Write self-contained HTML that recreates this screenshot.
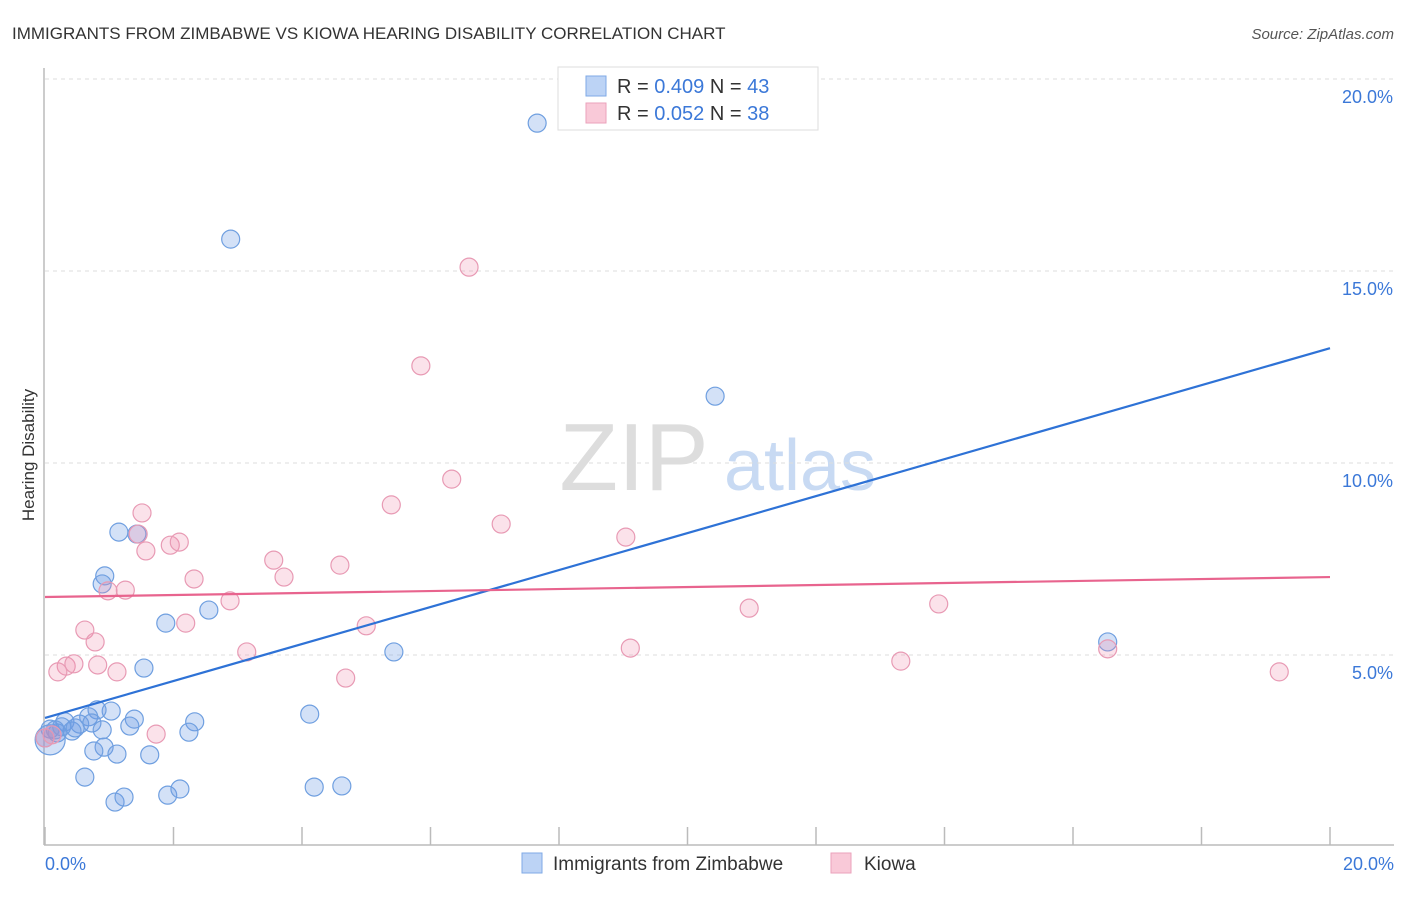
<!DOCTYPE html>
<html><head><meta charset="utf-8"><style>
body{margin:0;background:#fff;font-family:"Liberation Sans",sans-serif;}
svg text{font-family:"Liberation Sans",sans-serif;}
</style></head><body>
<svg id="chart" width="1406" height="892" xmlns="http://www.w3.org/2000/svg">
<text x="12" y="39" font-size="17" fill="#333">IMMIGRANTS FROM ZIMBABWE VS KIOWA HEARING DISABILITY CORRELATION CHART</text>
<text x="1394" y="39" font-size="15" fill="#555" text-anchor="end" font-style="italic">Source: ZipAtlas.com</text>
<text transform="translate(34,455) rotate(-90)" font-size="17" fill="#333" text-anchor="middle">Hearing Disability</text>
<g>
<text x="634" y="490" font-size="96" fill="#ddd" font-family="Liberation Serif,serif" text-anchor="middle">ZIP</text>
<text x="800" y="490" font-size="72" fill="#c8daf3" text-anchor="middle">atlas</text>
</g>
<g id="grid"></g>
<line x1="44" y1="68" x2="44" y2="845" stroke="#bbb" stroke-width="1.5"/>
<line x1="44" y1="845" x2="1394" y2="845" stroke="#bbb" stroke-width="1.5"/>
<g id="xticks"></g>
<g id="points"></g>
<g id="lines"></g>
<g>
<rect x="558" y="67" width="260" height="63" fill="#fff" stroke="#ddd"/>
<rect x="586" y="76" width="20" height="20" fill="#bcd3f5" stroke="#7fa9e6"/>
<text x="617" y="93" font-size="20" fill="#333">R = <tspan fill="#3b78d8">0.409</tspan>   N = <tspan fill="#3b78d8">43</tspan></text>
<rect x="586" y="103" width="20" height="20" fill="#f9c9d8" stroke="#eba2bb"/>
<text x="617" y="120" font-size="20" fill="#333">R = <tspan fill="#3b78d8">0.052</tspan>   N = <tspan fill="#3b78d8">38</tspan></text>
</g>
<g>
<rect x="522" y="853" width="20" height="20" fill="#bcd3f5" stroke="#7fa9e6"/>
<text x="553" y="870" font-size="19" fill="#333">Immigrants from Zimbabwe</text>
<rect x="831" y="853" width="20" height="20" fill="#f9c9d8" stroke="#eba2bb"/>
<text x="864" y="870" font-size="19" fill="#333">Kiowa</text>
</g>
<text x="45" y="870" font-size="18" fill="#3b78d8">0.0%</text>
<text x="1394" y="870" font-size="18" fill="#3b78d8" text-anchor="end">20.0%</text>
</svg>
<script>
const yTicks=[5,10,15,20];
const yTickLabels=["5.0%","10.0%","15.0%","20.0%"];
const blueX=[7.66,2.89,10.43,16.54,1.15,1.43,0.93,0.89,1.88,2.55,1.54,5.43,4.12,1.03,0.81,1.39,2.33,0.68,0.31,0.54,0.73,1.32,0.42,0.08,0.19,2.24,0.89,0.92,0.76,1.12,1.63,0.62,1.09,1.23,1.91,2.10,4.19,4.62,0.08,0.26,0.47,0.16,0.0];
const blueY=[18.85,15.83,11.74,5.34,8.20,8.15,7.06,6.85,5.83,6.17,4.66,5.08,3.46,3.54,3.57,3.33,3.26,3.39,3.26,3.20,3.23,3.15,3.02,3.07,2.97,2.99,3.05,2.60,2.50,2.42,2.40,1.82,1.17,1.30,1.35,1.51,1.56,1.59,2.79,3.13,3.10,3.05,2.84];
const pinkX=[6.60,5.85,6.33,5.39,7.10,9.04,1.51,1.45,1.95,2.09,1.57,3.56,3.72,2.32,0.98,1.25,2.88,10.96,13.91,2.19,5.00,0.62,0.78,3.14,9.11,16.54,13.32,0.82,0.33,0.45,0.20,1.12,4.68,19.21,1.73,0.0,0.11,4.59];
const pinkY=[15.10,12.53,9.58,8.91,8.41,8.07,8.70,8.15,7.86,7.94,7.71,7.47,7.03,6.98,6.67,6.69,6.41,6.22,6.33,5.83,5.76,5.65,5.34,5.08,5.18,5.16,4.84,4.74,4.71,4.77,4.56,4.56,4.40,4.56,2.94,2.84,2.92,7.34];
const blueTrend=[3.36,12.99];
const pinkTrend=[6.51,7.03];
const trendX=[0,20];
const NS="http://www.w3.org/2000/svg";
const sx=v=>45+v*64.25, sy=v=>847-v*38.4;
function mk(tag,attrs,parent){const e=document.createElementNS(NS,tag);for(const k in attrs)e.setAttribute(k,attrs[k]);parent.appendChild(e);return e;}
const grid=document.getElementById('grid');
yTicks.forEach((t,i)=>{
 const l=mk('line',{x1:45,x2:1394,y1:sy(t),y2:sy(t),stroke:'#ddd','stroke-dasharray':'4,4'},grid);
 
 
 const tx=mk('text',{x:1393,y:sy(t)+24,'font-size':18,fill:'#3b78d8','text-anchor':'end'},grid);
 tx.textContent=yTickLabels[i];
 
 
});
const xt=document.getElementById('xticks');
for(let i=0;i<=10;i++){
 const l=mk('line',{x1:sx(i*2),x2:sx(i*2),y1:827,y2:845,stroke:'#bbb','stroke-width':1.5},xt);
 
 
}
const pts=document.getElementById('points');
blueX.forEach((x,i)=>{
 const c=mk('circle',{cx:sx(x),cy:sy(blueY[i]),r:(i==38?15:9),fill:'rgba(110,155,230,0.3)',stroke:'#6f9fe0','stroke-width':1.2},pts);
 
 
});
pinkX.forEach((x,i)=>{
 const c=mk('circle',{cx:sx(x),cy:sy(pinkY[i]),r:9,fill:'rgba(240,140,170,0.25)',stroke:'#e89ab4','stroke-width':1.2},pts);
 
 
});
const ln=document.getElementById('lines');
const bl=mk('line',{x1:sx(trendX[0]),y1:sy(blueTrend[0]),x2:sx(trendX[1]),y2:sy(blueTrend[1]),stroke:'#2e72d6','stroke-width':2.2},ln);


const pl=mk('line',{x1:sx(trendX[0]),y1:sy(pinkTrend[0]),x2:sx(trendX[1]),y2:sy(pinkTrend[1]),stroke:'#e8648e','stroke-width':2.2},ln);


</script>
</body></html>
